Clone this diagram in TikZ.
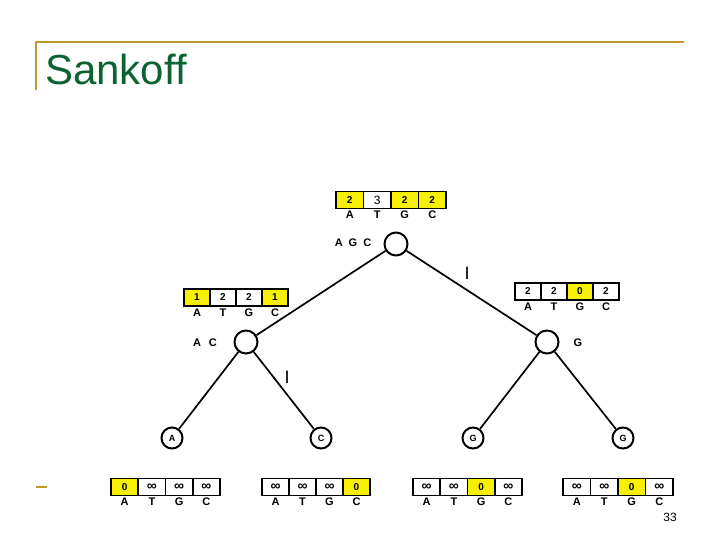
\documentclass[tikz,border=0pt]{standalone}
\usepackage{fontspec}
\setmainfont{Liberation Sans}
\definecolor{gold}{HTML}{C09A2A}
\definecolor{titlegreen}{HTML}{0B6332}
\definecolor{cy}{HTML}{F7F000}
\newcommand\inff{{\fontsize{14}{10}\selectfont ∞}}
\newcommand\costrow[5]{%
  \foreach \v/\c [count=\i] in {#5} {
    \node[cell=#4, fill=\c] (#1\i) at ({#2+(\i-0.5)*#4}, #3) {\v};
  }
  \foreach \l [count=\i] in {A,T,G,C} {
    \node[lbl] (#1l\i) at ({#2+(\i-0.5)*#4}, #3+11) {\l};
  }
}
\begin{document}
\begin{tikzpicture}[x=1pt,y=-1pt,
  cell/.style={draw=black, line width=1.8pt, minimum width=#1, minimum height=17pt, inner sep=0pt,
    font=\bfseries\fontsize{10}{10}\selectfont},
  lbl/.style={font=\bfseries\fontsize{11}{11}\selectfont, inner sep=0pt, anchor=north},
  vx/.style={circle, draw=black, line width=2pt, minimum size=23pt, inner sep=0pt, fill=white},
  lf/.style={circle, draw=black, line width=2pt, minimum size=21pt, inner sep=0pt, fill=white,
    font=\bfseries\fontsize{9}{9}\selectfont},
  edge/.style={line width=1.7pt, black},
  sidelbl/.style={font=\bfseries\fontsize{11}{11}\selectfont, inner sep=0pt},
  barmark/.style={font=\fontsize{18}{18}\selectfont, inner sep=0pt}]
\useasboundingbox (0,0) rectangle (720,540);
% slide frame
\draw[gold, line width=2.5pt] (36,90) coordinate (f1) -- (36,42) coordinate (f2) -- (684,42) coordinate (f3);
\draw[gold, line width=2.5pt] (36,487) coordinate (d1) -- (47,487) coordinate (d2);
\node[anchor=base west, inner sep=0pt, text=titlegreen, font=\fontsize{42}{42}\selectfont] (title) at (45,85) {Sankoff};
\node[anchor=base east, inner sep=0pt, font=\fontsize{12}{12}\selectfont] (pg) at (677,521) {33};
% tree vertices
\node[vx] (root) at (396,244) {};
\node[vx] (left) at (246,342) {};
\node[vx] (right) at (547,342) {};
\node[lf] (la) at (172,438) {A};
\node[lf] (lc) at (321,438) {C};
\node[lf] (lg1) at (473,438) {G};
\node[lf] (lg2) at (623,438) {G};
% edges
\draw[edge] (root) -- (left);
\draw[edge] (root) -- (right);
\draw[edge] (left) -- (la);
\draw[edge] (left) -- (lc);
\draw[edge] (right) -- (lg1);
\draw[edge] (right) -- (lg2);
% cost arrays
\costrow{ra}{336}{200}{27.5}{2/cy,{\normalfont\fontsize{12}{12}\selectfont 3}/white,2/cy,2/cy}
\costrow{la}{184}{297.5}{26}{1/cy,2/white,2/white,1/cy}
\costrow{rr}{515}{291.5}{26}{2/white,2/white,0/cy,2/white}
\costrow{aa}{111}{487}{27.25}{0/cy,\inff/white,\inff/white,\inff/white}
\costrow{ac}{262}{487}{27}{\inff/white,\inff/white,\inff/white,0/cy}
\costrow{ag}{413}{487}{27.25}{\inff/white,\inff/white,0/cy,\inff/white}
\costrow{ah}{563}{487}{27.5}{\inff/white,\inff/white,0/cy,\inff/white}
% candidate sets
\node[sidelbl] (sroot) at (353,243) {A\hspace{6pt}G\hspace{6pt}C};
\node[sidelbl] (sleft) at (205,343) {A\hspace{8pt}C};
\node[sidelbl] (sright) at (578,343) {G};
% marks
\node[barmark] (m1) at (467,273) {I};
\node[barmark] (m2) at (287,377) {I};
\end{tikzpicture}
\end{document}
